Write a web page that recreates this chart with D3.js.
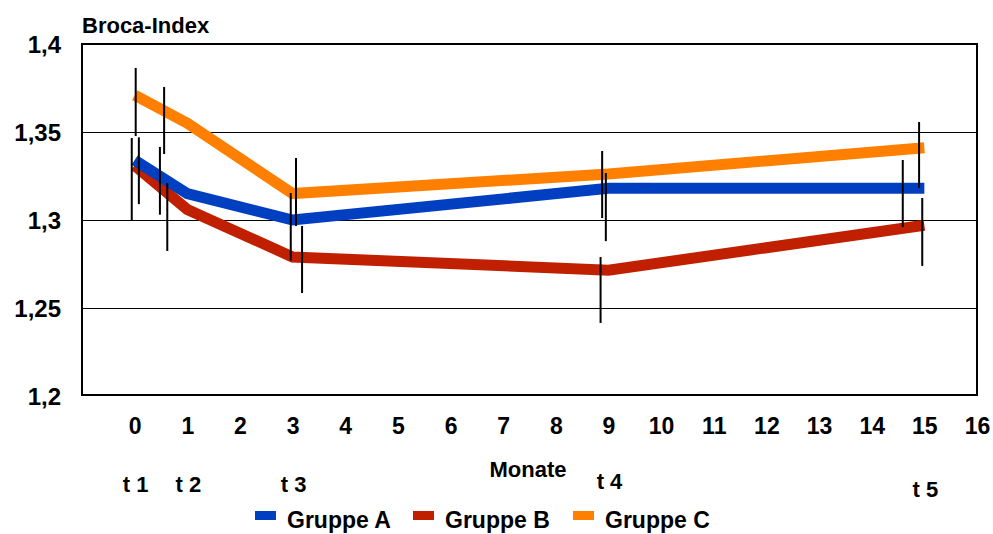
<!DOCTYPE html>
<html>
<head>
<meta charset="utf-8">
<script src="https://cdn.jsdelivr.net/npm/d3@7"></script>
<style>
  body { margin: 0; background: #fff; }
  svg text { font-family: "Liberation Sans", Arial, sans-serif; font-weight: bold; fill: #000; }
</style>
</head>
<body>
<div id="chart"></div>
<script>
// Data
var months = [0, 1, 3, 9, 15];
var timeLabels = ["t 1", "t 2", "t 3", "t 4", "t 5"];
var groupA = [1.334, 1.315, 1.3, 1.318, 1.318];
var groupB = [1.331, 1.306, 1.279, 1.2715, 1.297];
var groupC = [1.371, 1.355, 1.315, 1.3262, 1.341];

// error bars (x in months, low / high values)
var errA_x = [0.08, 0.48, 2.965, 8.95, 14.59];
var errA_lo = [1.309, 1.303, 1.277, 1.288, 1.296];
var errA_hi = [1.347, 1.3415, 1.3153, 1.3267, 1.3341];
var errB_x = [-0.055, 0.62, 3.18, 8.85, 14.96];
var errB_lo = [1.300, 1.2824, 1.2585, 1.2415, 1.2739];
var errB_hi = [1.3466, 1.321, 1.2966, 1.279, 1.3125];
var errC_x = [0.02, 0.56, 3.065, 8.88, 14.90];
var errC_lo = [1.3477, 1.3375, 1.2966, 1.3011, 1.3182];
var errC_hi = [1.3864, 1.3756, 1.3352, 1.3392, 1.3557];

var xTicks = d3.range(0, 17);
var yTicks = [1.2, 1.25, 1.3, 1.35, 1.4];
var gridValues = [1.25, 1.3, 1.35];
var groupNames = ["Gruppe A", "Gruppe B", "Gruppe C"];
var groupColors = ["#0040c0", "#c02000", "#ff8000"];

var svgWidth = 993, svgHeight = 534;
var plot = { left: 82, top: 44, right: 977, bottom: 396 };

var svg = d3.select("#chart").append("svg")
  .attr("width", svgWidth)
  .attr("height", svgHeight);

var x = d3.scaleLinear().domain([-1, 16]).range([plot.left, plot.right]);
var y = d3.scaleLinear().domain([1.2, 1.4]).range([plot.bottom, plot.top]);

// gridlines
svg.append("g").selectAll("line")
  .data(gridValues)
  .enter().append("line")
    .attr("x1", plot.left).attr("x2", plot.right)
    .attr("y1", function(d) { return Math.round(y(d)) + 0.5; })
    .attr("y2", function(d) { return Math.round(y(d)) + 0.5; })
    .attr("stroke", "#000")
    .attr("stroke-width", 1);

// plot border
svg.append("rect")
  .attr("x", plot.left).attr("y", plot.top)
  .attr("width", plot.right - plot.left)
  .attr("height", plot.bottom - plot.top - 1)
  .attr("fill", "none")
  .attr("stroke", "#000")
  .attr("stroke-width", 2);

// y axis labels
var yAxis = d3.axisLeft(y).tickValues(yTicks).tickSize(0).tickPadding(21)
  .tickFormat(function(d) { return String(d).replace(".", ","); });
var gy = svg.append("g").attr("transform", "translate(" + plot.left + ",0)").call(yAxis);
gy.select(".domain").remove();
gy.selectAll("text").attr("font-size", 24).attr("font-family", null)
  .attr("dy", "0.36em");

// x axis labels
var xAxis = d3.axisBottom(x).tickValues(xTicks).tickSize(0).tickPadding(22);
var gx = svg.append("g").attr("transform", "translate(0," + plot.bottom + ")").call(xAxis);
gx.select(".domain").remove();
gx.selectAll("text").attr("font-size", 23).attr("font-family", null);

// lines
var line = d3.line()
  .x(function(d, i) { return x(months[i]); })
  .y(function(d) { return y(d); });

var series = [groupB, groupA, groupC];
var seriesColors = [groupColors[1], groupColors[0], groupColors[2]];
series.forEach(function(s, k) {
  svg.append("path")
    .datum(s)
    .attr("d", line)
    .attr("fill", "none")
    .attr("stroke", seriesColors[k])
    .attr("stroke-width", 11)
    .attr("stroke-linejoin", "miter")
    .attr("stroke-linecap", "butt");
});

// error bars
var errSets = [[errA_x, errA_lo, errA_hi], [errB_x, errB_lo, errB_hi], [errC_x, errC_lo, errC_hi]];
errSets.forEach(function(e) {
  svg.append("g").selectAll("line")
    .data(e[0])
    .enter().append("line")
      .attr("x1", function(d) { return x(d); })
      .attr("x2", function(d) { return x(d); })
      .attr("y1", function(d, i) { return y(e[1][i]); })
      .attr("y2", function(d, i) { return y(e[2][i]); })
      .attr("stroke", "#000")
      .attr("stroke-width", 2);
});

// titles
svg.append("text")
  .attr("x", 82).attr("y", 33)
  .attr("font-size", 22)
  .text("Broca-Index");

svg.append("text")
  .attr("x", 528).attr("y", 477)
  .attr("text-anchor", "middle")
  .attr("font-size", 22)
  .text("Monate");

// t labels under the months
var tBaseline = [492, 492, 492, 489, 497];
svg.append("g").selectAll("text")
  .data(timeLabels)
  .enter().append("text")
    .attr("x", function(d, i) { return x(months[i]) + 1; })
    .attr("y", function(d, i) { return tBaseline[i]; })
    .attr("text-anchor", "middle")
    .attr("font-size", 22)
    .text(function(d) { return d; });

// legend
var legendX = [255, 413, 573];
var legend = svg.append("g").selectAll("g")
  .data(groupNames)
  .enter().append("g")
    .attr("transform", function(d, i) { return "translate(" + legendX[i] + ",0)"; });
legend.append("rect")
  .attr("x", 0).attr("y", 511)
  .attr("width", 21).attr("height", 9)
  .attr("fill", function(d, i) { return groupColors[i]; });
legend.append("text")
  .attr("x", 32).attr("y", 528)
  .attr("font-size", 23)
  .text(function(d) { return d; });
</script>
</body>
</html>
